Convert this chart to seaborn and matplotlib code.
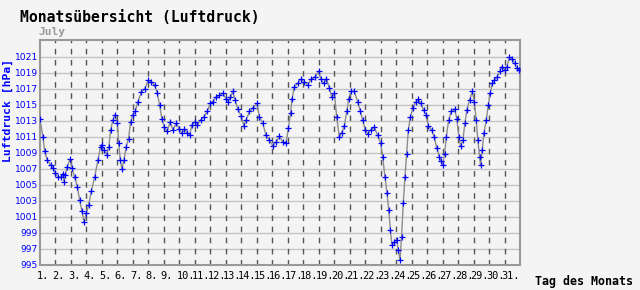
import matplotlib
matplotlib.use("Agg")
import matplotlib.pyplot as plt
import matplotlib.transforms as mtransforms
import seaborn as sns
import pandas as pd

# ---- data ----
tag = [1.00, 1.19, 1.30, 1.47, 1.69, 1.84, 2.00, 2.16, 2.38, 2.48, 2.55, 2.62, 2.76, 2.94,
       3.06, 3.24, 3.41, 3.56, 3.71, 3.84, 4.00, 4.14, 4.31, 4.53, 4.74, 4.91,
       5.00, 5.13, 5.30, 5.45, 5.56, 5.71, 5.86, 6.00, 6.08, 6.19, 6.29, 6.42, 6.57, 6.72, 6.85,
       7.00, 7.15, 7.32, 7.54, 7.75, 8.00, 8.18, 8.40, 8.57, 8.72, 8.87,
       9.04, 9.21, 9.41, 9.58, 9.80, 10.00, 10.16, 10.33, 10.50, 10.66, 10.81,
       11.00, 11.15, 11.37, 11.58, 11.80, 12.00, 12.16, 12.37, 12.59, 12.81,
       13.00, 13.13, 13.30, 13.45, 13.60, 13.77, 14.00, 14.16, 14.31, 14.53, 14.74,
       15.02, 15.17, 15.39, 15.60, 15.82, 16.03, 16.25, 16.46, 16.68, 16.89,
       17.04, 17.18, 17.28, 17.43, 17.65, 17.86, 18.08, 18.29, 18.50, 18.76,
       19.00, 19.15, 19.32, 19.50, 19.69, 19.84, 20.01, 20.16, 20.33, 20.48, 20.66, 20.81, 20.94,
       21.08, 21.30, 21.52, 21.69, 21.84, 22.00, 22.16, 22.37, 22.59, 22.81,
       23.00, 23.13, 23.28, 23.41, 23.52, 23.63, 23.73, 23.89, 24.03, 24.14, 24.25, 24.35, 24.46,
       24.57, 24.68, 24.79, 24.92, 25.09, 25.26, 25.43, 25.60, 25.77, 25.92,
       26.08, 26.29, 26.46, 26.63, 26.79, 26.90, 27.00, 27.13, 27.24, 27.39, 27.56, 27.77, 27.92,
       28.05, 28.16, 28.31, 28.44, 28.57, 28.74, 28.92, 29.05, 29.17, 29.28, 29.39, 29.45,
       29.56, 29.67, 29.82, 29.95, 30.08, 30.21, 30.35, 30.53, 30.68, 30.83,
       31.00, 31.15, 31.32, 31.50, 31.65, 31.80, 31.94]
luftdruck = [1013.2, 1011.0, 1009.2, 1008.1, 1007.5, 1007.1, 1006.5, 1006.0, 1006.0, 1006.4, 1005.4, 1006.2, 1007.3, 1008.2,
             1007.1, 1006.0, 1004.8, 1003.1, 1001.7, 1000.4, 1001.5, 1002.5, 1004.2, 1006.0, 1008.1, 1009.8,
             1010.0, 1009.4, 1008.8, 1009.8, 1011.9, 1013.1, 1013.8, 1012.7, 1010.2, 1008.1, 1007.0, 1008.1, 1009.8, 1010.8, 1012.9,
             1013.8, 1014.2, 1015.4, 1016.6, 1017.0, 1018.1, 1017.9, 1017.5, 1016.5, 1015.0, 1013.3,
             1012.2, 1011.7, 1012.9, 1011.9, 1012.7, 1012.0, 1011.5, 1012.0, 1011.5, 1011.2, 1012.5,
             1012.9, 1012.5, 1013.1, 1013.5, 1014.2, 1015.2, 1015.4, 1016.0, 1016.2, 1016.5,
             1015.8, 1015.4, 1016.0, 1016.7, 1015.6, 1014.5, 1013.6, 1012.4, 1013.1, 1014.2, 1014.6,
             1015.2, 1013.5, 1012.7, 1011.2, 1010.6, 1009.9, 1010.4, 1011.1, 1010.4, 1010.2,
             1012.1, 1014.0, 1015.8, 1017.3, 1017.7, 1018.2, 1017.9, 1017.5, 1018.2, 1018.5,
             1019.2, 1018.2, 1017.7, 1018.3, 1017.1, 1016.0, 1016.5, 1013.5, 1011.0, 1011.5, 1012.4, 1014.2, 1015.8,
             1016.7, 1016.7, 1015.4, 1014.2, 1013.1, 1011.9, 1011.4, 1011.9, 1012.2, 1011.2,
             1010.2, 1008.5, 1006.0, 1004.0, 1001.9, 999.4, 997.5, 997.9, 998.1, 996.9, 995.6, 998.5, 1002.7,
             1006.0, 1008.9, 1011.9, 1013.5, 1014.6, 1015.4, 1015.7, 1015.2, 1014.4, 1013.8,
             1012.4, 1011.9, 1011.0, 1009.6, 1008.5, 1008.0, 1007.5, 1008.9, 1011.0, 1013.1, 1014.2, 1014.5, 1013.3,
             1011.0, 1009.9, 1010.6, 1012.7, 1014.4, 1015.6, 1016.7, 1015.4, 1013.1, 1010.6, 1008.5, 1007.5,
             1009.4, 1011.5, 1013.1, 1015.0, 1016.5, 1017.7, 1018.1, 1018.5, 1019.2, 1019.8,
             1019.4, 1019.8, 1021.0, 1020.8, 1020.2, 1019.6, 1019.4]

tage_ticks = list(range(1, 32))
tage_labels = [f"{d}." for d in tage_ticks]
y_ticks = list(range(995, 1022, 2))

title_text = "Monatsübersicht (Luftdruck)"
month_text = "July"
ylabel_text = "Luftdruck [hPa]"
xlabel_text = "Tag des Monats"

# ---- styling ----
sns.set_theme(style="white")
plt.rcParams["font.family"] = ["DejaVu Sans Mono", "DejaVu Sans"]
BG = "#f4f4f4"

fig = plt.figure(figsize=(6.4, 2.9), dpi=100, facecolor=BG)
ax = fig.add_axes([40 / 640, 25 / 290, 480 / 640, 225 / 290])
ax.set_facecolor(BG)

df = pd.DataFrame({"tag": tag, "luftdruck": luftdruck})
sns.lineplot(data=df, x="tag", y="luftdruck", ax=ax, estimator=None, sort=False,
             color="#8c8c8c", linewidth=1.0, marker="+", markersize=4,
             markeredgecolor="#0000ff", markeredgewidth=0.9, zorder=3)

ax.set_xlim(1, 32)
ax.set_ylim(995, 1023.125)

# grid lines
for v in y_ticks:
    ax.axhline(v, color="#c4c4c4", linewidth=1.0, zorder=1)
for d in range(2, 32):
    ax.axvline(d, color="#555555", linewidth=1.0, linestyle=(0, (4, 4)), zorder=1)

ax.set_yticks(y_ticks)
ax.set_yticklabels([str(v) for v in y_ticks], color="#0000ff",
                   fontsize=6.6, family="DejaVu Sans")
ax.set_xticks(tage_ticks)
ax.set_xticklabels(tage_labels, fontsize=7.4, color="black", ha="left")
ax.tick_params(axis="y", length=0, pad=1.5)
ax.tick_params(axis="x", length=0, pad=4)
offset = mtransforms.ScaledTranslation(-3 / 100, 0, fig.dpi_scale_trans)
for lab in ax.get_xticklabels():
    lab.set_transform(lab.get_transform() + offset)

ax.set_xlabel("")
ax.set_ylabel("")
for s in ax.spines.values():
    s.set_color("#999999")
    s.set_linewidth(1.5)
    s.set_visible(True)

# texts
fig.text(20 / 640, 1 - 17 / 290, title_text, fontsize=10.6, fontweight="bold",
         color="black", ha="left", va="center")
fig.text(38 / 640, 1 - 32 / 290, month_text, fontsize=8, fontweight="bold",
         color="#999999", ha="left", va="center")
fig.text(8 / 640, 1 - 110 / 290, ylabel_text, fontsize=8.2, fontweight="bold",
         color="#0000ff", rotation=90, ha="center", va="center")
fig.text(535 / 640, 1 - 282 / 290, xlabel_text, fontsize=8.4, fontweight="bold",
         color="black", ha="left", va="center")

fig.savefig("out.png", dpi=100, facecolor=BG)
